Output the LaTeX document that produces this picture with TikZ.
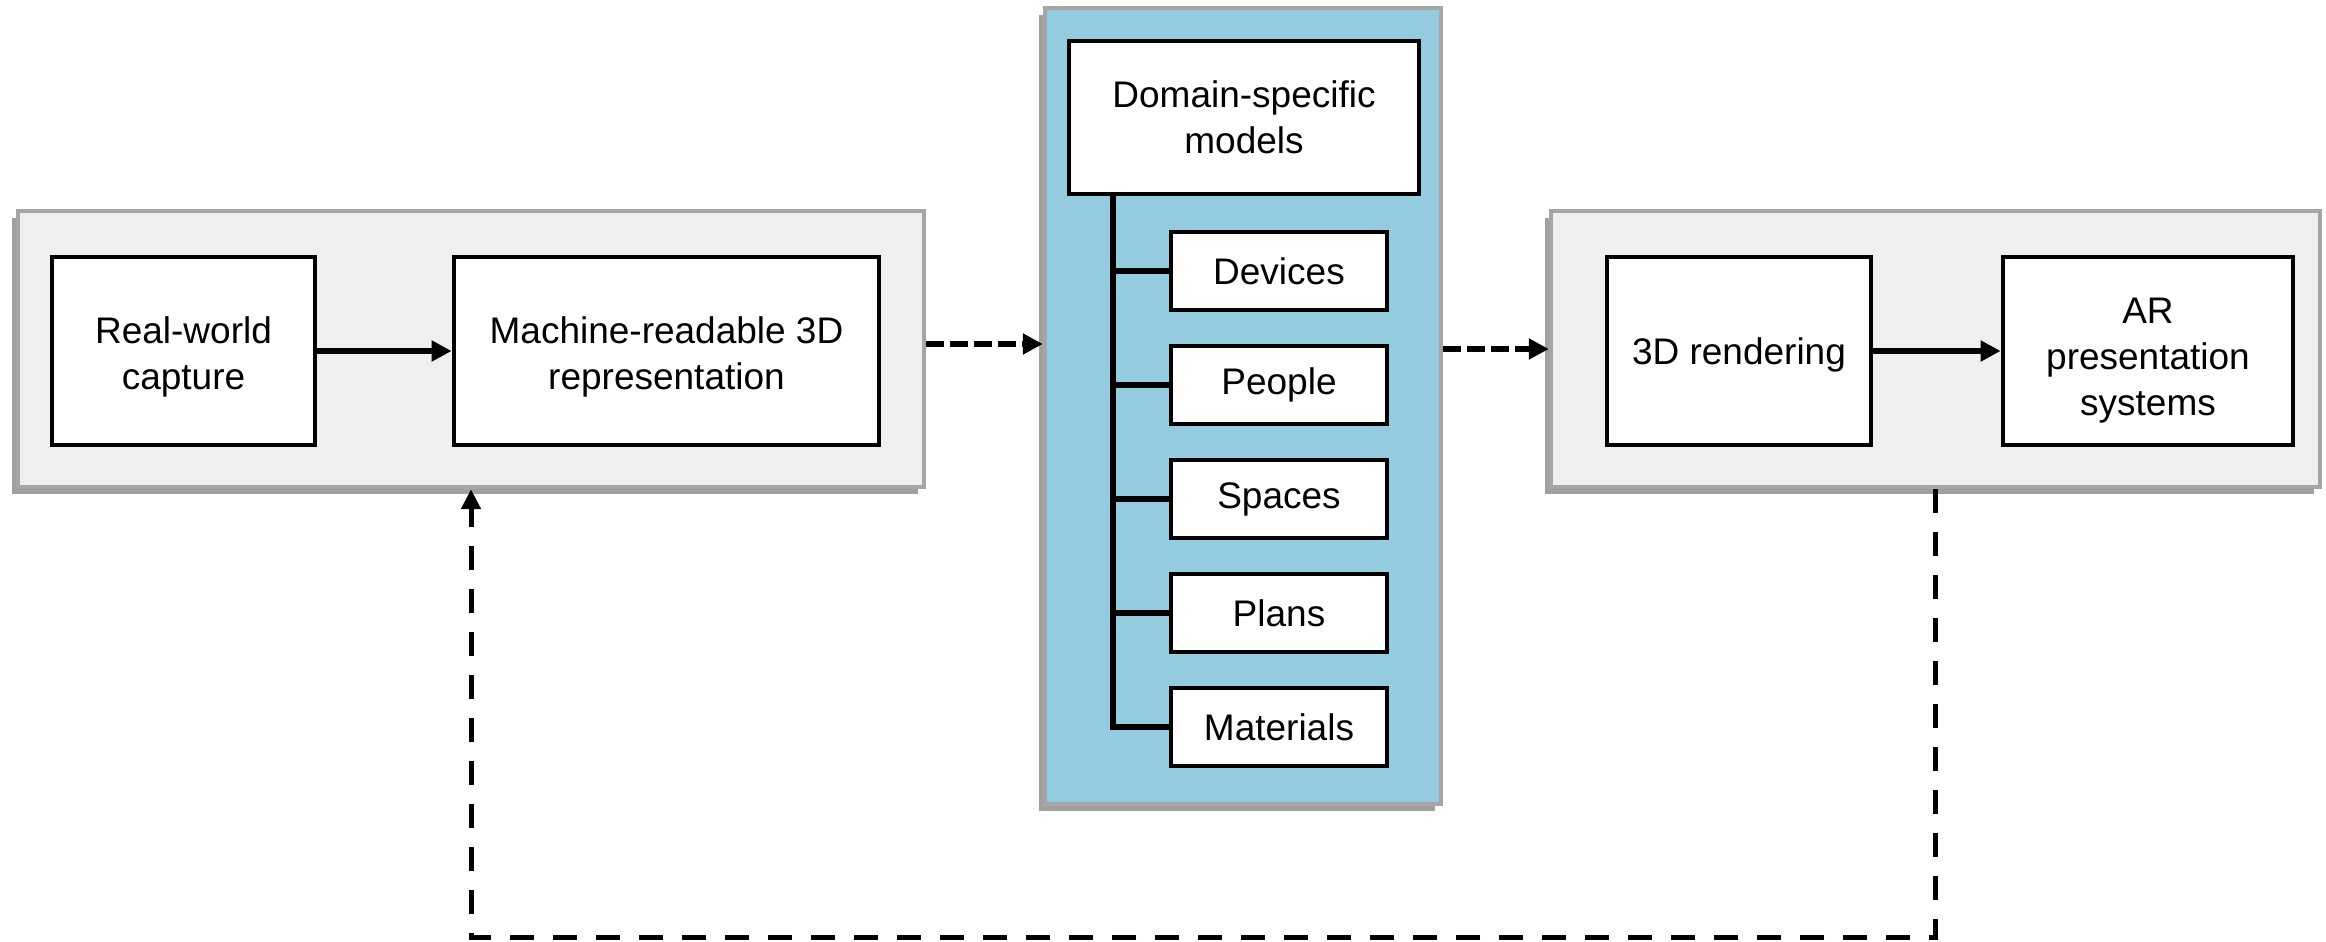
\documentclass[tikz,border=0pt]{standalone}
\usepackage{fontspec}
\setmainfont{Liberation Sans}
\usetikzlibrary{arrows.meta,shadows}
\definecolor{cgray}{HTML}{EFEFEF}
\definecolor{cborder}{HTML}{A6A6A6}
\definecolor{cblue}{HTML}{94CBDE}
\definecolor{cshadow}{HTML}{A0A0A0}
\newcommand{\mylowtext}[2]{\raisebox{-#1}[\height][\depth]{\begin{tabular}{@{}c@{}}#2\end{tabular}}}
\tikzset{
  container/.style={draw=cborder, line width=2.2pt, inner sep=0pt,
    drop shadow={shadow xshift=-3pt, shadow yshift=-3.5pt, fill=cshadow, opacity=1}},
  boxnode/.style={draw=black, line width=2.4pt, fill=white, inner sep=0pt, align=center,
    font=\fontsize{18.5}{23}\selectfont},
  solidarrow/.style={line width=2.8pt, -{Triangle[length=10pt,width=10pt]}},
  dasharrow/.style={line width=2.8pt, dash pattern=on 9pt off 3pt, -{Triangle[length=10pt,width=10pt]}},
  feedback/.style={line width=2.5pt, dash pattern=on 12pt off 9.5pt, -{Triangle[length=10pt,width=9.5pt]}},
  tree/.style={line width=2.8pt}
}
\begin{document}
\begin{tikzpicture}[x=0.5pt,y=-0.5pt]
\useasboundingbox (0,0) rectangle (2326,942);

% containers
\node[container, fill=cgray, minimum width=453pt, minimum height=138pt] (lc) at (471,349) {};
\node[container, fill=cblue, minimum width=198pt, minimum height=398pt] (bc) at (1243,406) {};
\node[container, fill=cgray, minimum width=384.5pt, minimum height=138pt] (rc) at (1935.5,349) {};

% left boxes
\node[boxnode, minimum width=131.5pt, minimum height=94pt] (real) at (183.5,351) {\mylowtext{3pt}{Real-world\\capture}};
\node[boxnode, minimum width=212.5pt, minimum height=94pt] (mach) at (666.5,351) {\mylowtext{3pt}{Machine-readable 3D\\representation}};

% right boxes
\node[boxnode, minimum width=132pt, minimum height=94pt] (rend) at (1739,351) {\mylowtext{2.2pt}{3D rendering}};
\node[boxnode, minimum width=145pt, minimum height=94pt] (ar) at (2148,351) {\mylowtext{4.5pt}{AR\\presentation\\systems}};

% domain models
\node[boxnode, minimum width=175pt, minimum height=76.5pt] (dom) at (1244,117.5) {Domain-specific\\models};
\node[boxnode, minimum width=108pt, minimum height=39pt] (dev) at (1279,271) {Devices};
\node[boxnode, minimum width=108pt, minimum height=39pt] (peo) at (1279,385) {People};
\node[boxnode, minimum width=108pt, minimum height=39pt] (spa) at (1279,499) {Spaces};
\node[boxnode, minimum width=108pt, minimum height=39pt] (pla) at (1279,613) {Plans};
\node[boxnode, minimum width=108pt, minimum height=39pt] (mat) at (1279,727) {Materials};

\coordinate (trunk) at (1113,0);
\draw[tree] (dom.south -| trunk) -- (trunk |- mat.west) -- (mat.west);
\foreach \n in {dev,peo,spa,pla}
  \draw[tree] (trunk |- \n.west) -- (\n.west);

% arrows
\draw[solidarrow] (real.east) -- (mach.west);
\draw[solidarrow] (rend.east) -- (ar.west);
\draw[dasharrow] ([yshift=2.5pt]lc.east) -- ([yshift=2.5pt]lc.east -| bc.west);
\draw[dasharrow] (bc.east |- rc.west) -- (rc.west);

% feedback
\coordinate (fb) at (0,937);
\draw[feedback] (rc.south) -- (rc.south |- fb) -- (lc.south |- fb) -- (lc.south);
\end{tikzpicture}
\end{document}
